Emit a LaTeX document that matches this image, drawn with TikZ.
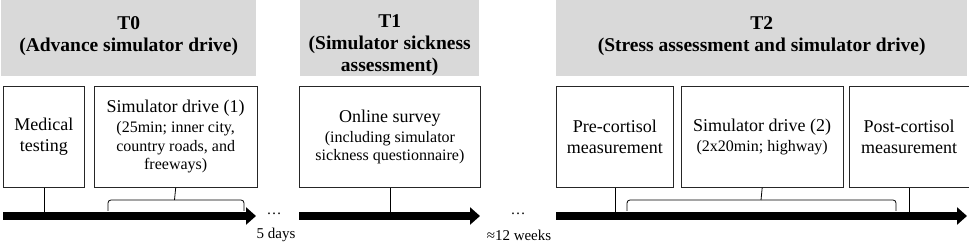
\documentclass[tikz,border=0pt]{standalone}
\usepackage{fontspec}
\setmainfont{Liberation Serif}
\usepackage{tikz}
\usetikzlibrary{arrows.meta, positioning}
\definecolor{headgray}{RGB}{217, 217, 217}
\definecolor{boxline}{RGB}{38, 38, 38}
\newcommand{\mainsz}{\fontsize{18}{21.5}\selectfont}
\newcommand{\subsz}{\fontsize{16}{18.5}\selectfont}
\newcommand{\gapsz}{\fontsize{15}{18}\selectfont}
\newcommand{\headsz}{\fontsize{19.5}{22}\selectfont\bfseries}
\newcommand{\hdstrut}{\rule{0pt}{27pt}}

\begin{document}
\begin{tikzpicture}[
    x=1pt, y=1pt,
    node distance=9pt,
    every node/.style={align=center, inner sep=0pt},
    headbox/.style={fill=headgray, minimum height=76pt, font=\headsz, anchor=north west},
    eventbox/.style={draw=boxline, fill=white, line width=0.8pt, minimum height=101pt, font=\mainsz},
    timeline/.style={line width=8pt, -{Triangle[length=10pt, width=17pt]}},
    tick/.style={line width=0.8pt},
    spanbrace/.style={line width=0.8pt, rounded corners=3pt},
    gaplabel/.style={font=\gapsz}
]
\useasboundingbox (0,0) rectangle (969,243);

% Headers of the three measurement points
\node[headbox, minimum width=255pt] (hdr0) at (1,243) {\hdstrut T0\\(Advance simulator drive)\\\mbox{}};
\node[headbox, minimum width=179pt] (hdr1) at (300,243) {\hdstrut T1\\(Simulator sickness\\assessment)};
\node[headbox, minimum width=411pt] (hdr2) at (556,243) {\hdstrut T2\\(Stress assessment and simulator drive)\\\mbox{}};

% T0 events
\node[eventbox, minimum width=81pt, anchor=north west] (medical) at (3,157) {Medical\\testing};
\node[eventbox, minimum width=163pt, right=9pt of medical] (drive1) {Simulator drive (1)\\[-1.5pt]{\subsz (25min; inner city,}\\[-3pt]{\subsz country roads, and}\\[-3pt]{\subsz freeways)}};

% T1 events
\node[eventbox, minimum width=181pt, anchor=north west] (survey) at (299,157) {Online survey\\[-1.5pt]{\subsz (including simulator}\\[-3pt]{\subsz sickness questionnaire)}};

% T2 events
\node[eventbox, minimum width=117pt, anchor=north west] (precort) at (556,157) {Pre-cortisol\\measurement};
\node[eventbox, minimum width=162pt, right=7pt of precort] (drive2) {Simulator drive (2)\\[-1.5pt]{\subsz (2x20min; highway)}};
\node[eventbox, minimum width=120pt, right=5pt of drive2] (postcort) {Post-cortisol\\measurement};

% Timeline ends and brace points
\coordinate (tl0s) at (3,27);
\coordinate (tl0e) at (256,27);
\coordinate (tl1s) at (299,27);
\coordinate (tl1e) at (480,27);
\coordinate (tl2s) at (556,27);
\coordinate (tl2e) at (967,27);
\coordinate (br1l) at (108,32);
\coordinate (br1m) at (174.5,43);
\coordinate (br1r) at (244,32);
\coordinate (br2l) at (627,32);
\coordinate (br2m) at (761,43);
\coordinate (br2r) at (896,32);

% Ticks and braces
\draw[tick] (medical.south) -- (medical.south |- tl0s);
\draw[tick] (survey.south) -- (survey.south |- tl1s);
\draw[tick] (precort.south) -- (precort.south |- tl2s);
\draw[tick] (postcort.south) -- (postcort.south |- tl2s);
\draw[spanbrace] (br1l) |- (br1m) -| (br1r);
\draw[tick] (br1m) -- (drive1.south);
\draw[spanbrace] (br2l) |- (br2m) -| (br2r);
\draw[tick] (br2m) -- (drive2.south);

% Timelines
\draw[timeline] (tl0s) -- (tl0e);
\draw[timeline] (tl1s) -- (tl1e);
\draw[timeline] (tl2s) -- (tl2e);

% Gaps between measurement points
\node[gaplabel] (dots0) at (274,29) {\dots};
\node[gaplabel] (gap0) at (276,8) {5 days};
\node[gaplabel] (dots1) at (518,29) {\dots};
\node[gaplabel] (gap1) at (519,8) {≈12 weeks};

\end{tikzpicture}
\end{document}
